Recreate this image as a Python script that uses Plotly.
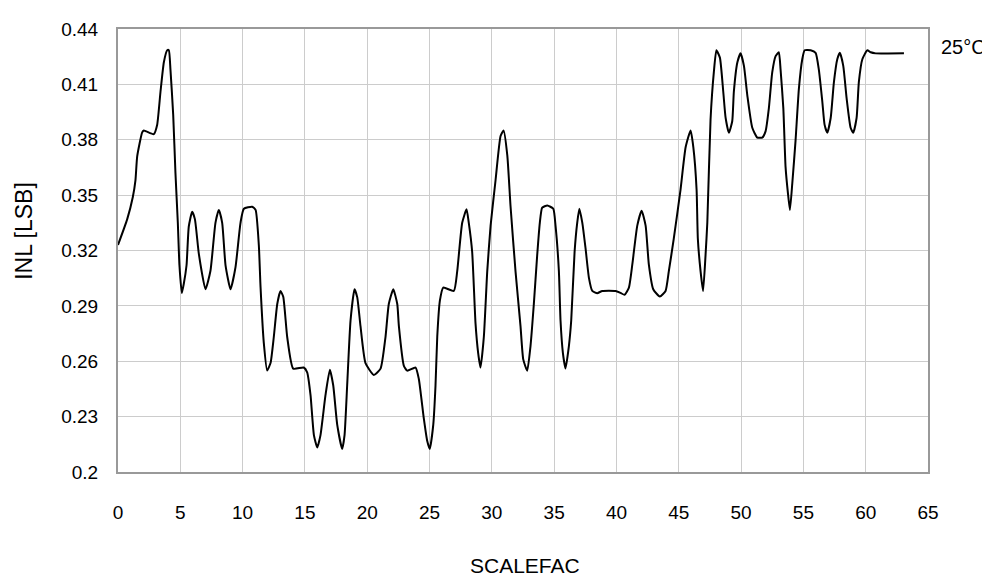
import plotly.graph_objects as go

# SCALEFAC vs INL at 25 degC
scalefac = [0.00, 0.74, 1.19, 1.40, 1.54, 1.94, 2.07, 2.87, 3.14, 3.41, 3.68, 3.95, 4.08, 4.21, 4.43, 4.61,
            4.80, 4.93, 5.12, 5.28, 5.50, 5.68, 5.95, 6.17, 6.49, 7.02, 7.42, 7.82, 8.09, 8.36, 8.63, 9.03,
            9.43, 9.83, 10.10, 10.77, 11.04, 11.30, 11.44, 11.70, 11.97, 12.24, 12.50, 12.78, 13.04, 13.26,
            13.58, 14.06, 14.90, 15.18, 15.45, 15.72, 15.99, 16.25, 16.65, 17.00, 17.27, 17.59, 17.99, 18.18,
            18.39, 18.66, 18.98, 19.20, 19.46, 19.86, 20.53, 21.07, 21.47, 21.73, 22.09, 22.41, 22.54, 22.94,
            23.21, 23.88, 24.14, 24.54, 24.81, 25.02, 25.30, 25.48, 25.62, 25.83, 26.10, 26.95, 27.22, 27.62,
            27.97, 28.15, 28.42, 28.69, 28.90, 29.09, 29.36, 29.63, 29.90, 30.30, 30.70, 30.94, 31.24, 31.50,
            31.90, 32.30, 32.52, 32.84, 33.10, 33.37, 33.64, 33.85, 34.04, 34.45, 34.93, 35.11, 35.38, 35.51,
            35.70, 35.91, 36.18, 36.37, 36.64, 36.85, 37.02, 37.26, 37.52, 37.79, 38.06, 38.46, 38.86, 39.93,
            40.33, 40.65, 41.00, 41.27, 41.67, 42.02, 42.34, 42.60, 42.95, 43.48, 43.94, 44.20, 44.60, 45.14,
            45.55, 45.95, 46.17, 46.43, 46.53, 46.75, 46.95, 47.15, 47.29, 47.55, 47.82, 48.02, 48.30, 48.57,
            48.76, 49.02, 49.29, 49.42, 49.70, 49.96, 50.23, 50.50, 50.90, 51.30, 51.70, 51.97, 52.23, 52.50,
            52.77, 53.03, 53.17, 53.39, 53.57, 53.76, 53.92, 54.11, 54.37, 54.64, 54.91, 55.10, 55.58, 55.98,
            56.24, 56.52, 56.70, 56.92, 57.19, 57.45, 57.72, 57.93, 58.20, 58.47, 58.79, 59.00, 59.27, 59.45,
            59.73, 60.13, 60.40, 60.80, 63.07]
inl = [0.323, 0.337, 0.349, 0.358, 0.371, 0.384, 0.385, 0.383, 0.388, 0.406, 0.422, 0.4285, 0.4285, 0.418, 0.3935, 0.362,
       0.335, 0.312, 0.297, 0.302, 0.312, 0.333, 0.341, 0.337, 0.318, 0.299, 0.309, 0.335, 0.342, 0.335, 0.312, 0.299,
       0.311, 0.335, 0.3426, 0.3437, 0.342, 0.323, 0.300, 0.270, 0.255, 0.259, 0.273, 0.291, 0.298, 0.295,
       0.273, 0.256, 0.2566, 0.254, 0.2416, 0.220, 0.2133, 0.220, 0.2416, 0.2554, 0.247, 0.2257, 0.2125, 0.220,
       0.247, 0.282, 0.299, 0.2946, 0.279, 0.259, 0.2526, 0.256, 0.2734, 0.291, 0.299, 0.291, 0.279, 0.2575,
       0.2549, 0.2566, 0.2504, 0.229, 0.2169, 0.2125, 0.2257, 0.247, 0.2734, 0.2928, 0.2999, 0.2981, 0.3087, 0.335,
       0.3423, 0.335, 0.3193, 0.2805, 0.2646, 0.2566, 0.2734, 0.3087, 0.3335, 0.3582, 0.382, 0.385, 0.3715, 0.344,
       0.3087, 0.279, 0.261, 0.2549, 0.2681, 0.291, 0.3176, 0.335, 0.3432, 0.3444, 0.3426, 0.3335, 0.3087, 0.2822,
       0.2646, 0.2561, 0.2681, 0.2822, 0.3193, 0.335, 0.3426, 0.335, 0.3211, 0.3052, 0.2981, 0.2969, 0.2981, 0.2981,
       0.297, 0.296, 0.2999, 0.3123, 0.3335, 0.3416, 0.3335, 0.3123, 0.299, 0.2951, 0.2981, 0.3087, 0.3264, 0.3529,
       0.3759, 0.385, 0.3759, 0.3529, 0.3264, 0.3087, 0.298, 0.3176, 0.335, 0.391, 0.417, 0.4285, 0.4245, 0.406,
       0.3918, 0.3838, 0.390, 0.406, 0.4218, 0.4268, 0.420, 0.4041, 0.3865, 0.3812, 0.3812, 0.3847, 0.3971, 0.4165,
       0.4253, 0.4274, 0.418, 0.3971, 0.3653, 0.3511, 0.342, 0.3564, 0.3794, 0.4077, 0.4236, 0.4285, 0.4285, 0.4271,
       0.418, 0.4006, 0.3882, 0.3838, 0.3918, 0.4112, 0.4236, 0.4271, 0.420, 0.4024, 0.3865, 0.3838, 0.3918, 0.4112,
       0.4236, 0.4285, 0.4274, 0.4268, 0.4268]

x_ticks = [0, 5, 10, 15, 20, 25, 30, 35, 40, 45, 50, 55, 60, 65]
y_ticks = [0.2, 0.23, 0.26, 0.29, 0.32, 0.35, 0.38, 0.41, 0.44]
y_tick_text = ["0.2", "0.23", "0.26", "0.29", "0.32", "0.35", "0.38", "0.41", "0.44"]

family = "Liberation Sans, Arial, sans-serif"
tick_font = dict(family=family, size=19, color="black")

fig = go.Figure()
fig.add_trace(go.Scatter(x=scalefac, y=inl, mode="lines",
                         line=dict(color="black", width=2, shape="spline", smoothing=0.5),
                         showlegend=False, hoverinfo="skip"))

fig.update_xaxes(range=[0, 65], tickvals=x_ticks, showgrid=True, gridcolor="#cccccc", gridwidth=1,
                 showline=True, linecolor="#999999", linewidth=2, mirror=True, zeroline=False,
                 ticks="", ticklabelstandoff=22, tickfont=tick_font)
fig.update_yaxes(range=[0.2, 0.44], tickvals=y_ticks, ticktext=y_tick_text, showgrid=True,
                 gridcolor="#cccccc", gridwidth=1, showline=True, linecolor="#999999", linewidth=2,
                 mirror=True, zeroline=False, ticks="", ticklabelstandoff=14, tickfont=tick_font)

# axis titles
fig.add_annotation(text="SCALEFAC", xref="paper", yref="paper", x=0.502, y=-0.211,
                   xanchor="center", yanchor="middle", showarrow=False,
                   font=dict(family=family, size=21, color="black"))
fig.add_annotation(text="INL [LSB]", xref="paper", yref="paper", x=-0.117, y=0.545,
                   xanchor="center", yanchor="middle", textangle=-90, showarrow=False,
                   font=dict(family=family, size=23, color="black"))
# series label
fig.add_annotation(text="25°C", xref="paper", yref="y", x=1.013, y=0.4302, xanchor="left",
                   yanchor="middle", showarrow=False, font=dict(family=family, size=20, color="black"))

fig.update_layout(width=982, height=575, margin=dict(l=110, r=62, t=11, b=111),
                  plot_bgcolor="white", paper_bgcolor="white")

fig.write_html("out.html")
